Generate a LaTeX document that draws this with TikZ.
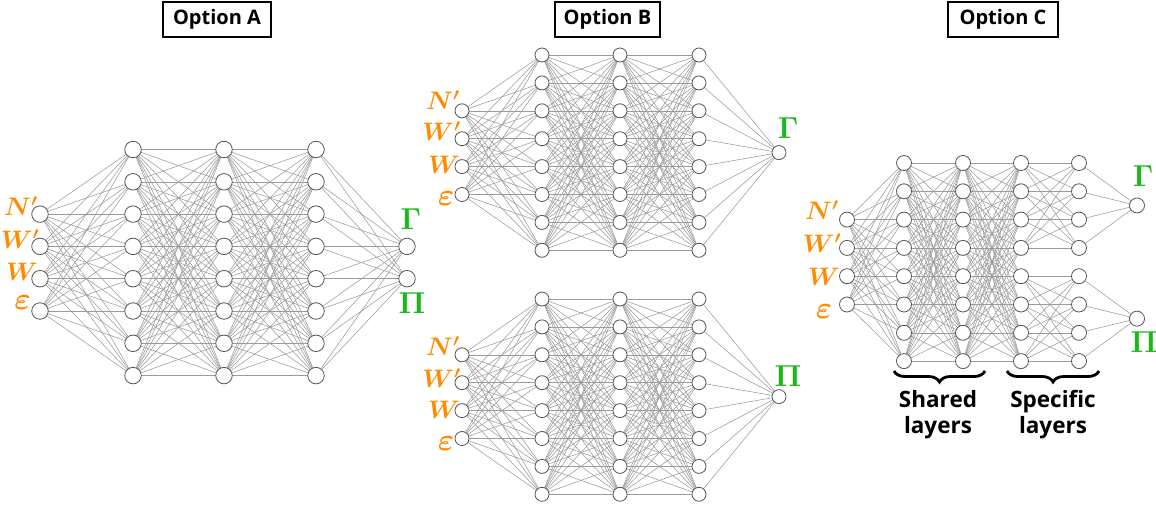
\documentclass[tikz,border=0pt]{standalone}
\usepackage{amsmath}
\usepackage{graphicx}
\usepackage[no-math]{fontspec}
\newfontfamily\titlefont{Open Sans}
\usetikzlibrary{decorations.pathreplacing}
\definecolor{inorange}{RGB}{255,140,0}
\definecolor{outgreen}{RGB}{25,185,25}
\definecolor{edgegray}{RGB}{155,155,155}
\definecolor{nodegray}{RGB}{85,85,85}
\newcommand{\lab}[2][1.22]{\scalebox{#1}{$#2$}}
\pgfdeclarelayer{bg}\pgfsetlayers{bg,main}
\tikzset{
 neuron/.style={circle,draw=nodegray,fill=white,line width=0.8pt,inner sep=0pt,minimum size=#1},
 edge/.style={draw=edgegray,line width=0.55pt},
 titlebox/.style={draw=black,line width=1.6pt,font=\titlefont\bfseries\fontsize{20}{20}\selectfont,minimum height=35pt,inner sep=0pt},
 inlabel/.style={text=inorange,font=\huge\boldmath,inner sep=0pt},
 outlabel/.style={text=outgreen,font=\Huge\boldmath,inner sep=0pt},
 bracetext/.style={font=\titlefont\bfseries\fontsize{22.5}{26}\selectfont,align=center,inner sep=0pt},
 layerbrace/.style={decorate,decoration={brace,mirror,amplitude=11pt},line width=2.8pt}
}
\begin{document}
\begin{tikzpicture}[x=1pt,y=-1pt]
\useasboundingbox (0,0) rectangle (1156,508);
% ---------------- titles
\node[titlebox,minimum width=108pt] (tA) at (217,19.5) {Option A};
\node[titlebox,minimum width=105pt] (tB) at (607.5,19.5) {Option B};
\node[titlebox,minimum width=110pt] (tC) at (1003,19.5) {Option C};

% ---------------- Option A
\foreach \j in {1,...,8}{
  \foreach \x [count=\l] in {133,224,316}
    \node[neuron=16.5pt] (A-\l-\j) at (\x,{149.5+(\j-1)*32.3}) {};
}
\foreach \i in {1,...,4}
  \node[neuron=16.5pt] (A-0-\i) at (40,{149.5+(\i+1)*32.3}) {};
\node[neuron=16.5pt] (A-4-1) at (407,{149.5+3*32.3}) {};
\node[neuron=16.5pt] (A-4-2) at (407,{149.5+4*32.3}) {};
\begin{pgfonlayer}{bg}
\foreach \i in {1,...,4}\foreach \j in {1,...,8}
  \draw[edge] (A-0-\i.center) -- (A-1-\j.center);
\foreach \l/\m in {1/2,2/3}\foreach \i in {1,...,8}\foreach \j in {1,...,8}
  \draw[edge] (A-\l-\i.center) -- (A-\m-\j.center);
\foreach \i in {1,...,8}\foreach \k in {1,2}
  \draw[edge] (A-3-\i.center) -- (A-4-\k.center);
\end{pgfonlayer}
\node[inlabel] (A-N) at (21,206) {\lab{N'}};
\node[inlabel] (A-Wp) at (20,239) {\lab{W'}};
\node[inlabel] (A-W) at (22,272) {\lab{W}};
\node[inlabel] (A-e) at (22.5,303) {\lab[1.5]{\varepsilon}};
\node[outlabel] (A-G) at (411,219) {\lab{\Gamma}};
\node[outlabel] (A-P) at (412,303) {\lab{\Pi}};

% ---------------- Option B (two networks)
\foreach \net/\ys/\yo in {T/55/152.6, U/299/396.6}{
  \foreach \j in {1,...,8}{
    \foreach \x [count=\l] in {542,620,699}
      \node[neuron=14pt] (B\net-\l-\j) at (\x,{\ys+(\j-1)*27.9}) {};
  }
  \foreach \i in {1,...,4}
    \node[neuron=14pt] (B\net-0-\i) at (462,{\ys+(\i+1)*27.9}) {};
  \node[neuron=14pt] (B\net-4-1) at (779,\yo) {};
  \begin{pgfonlayer}{bg}
  \foreach \i in {1,...,4}\foreach \j in {1,...,8}
    \draw[edge] (B\net-0-\i.center) -- (B\net-1-\j.center);
  \foreach \l/\m in {1/2,2/3}\foreach \i in {1,...,8}\foreach \j in {1,...,8}
    \draw[edge] (B\net-\l-\i.center) -- (B\net-\m-\j.center);
  \foreach \i in {1,...,8}
    \draw[edge] (B\net-3-\i.center) -- (B\net-4-1.center);
  \end{pgfonlayer}
}
\node[inlabel] (BT-N) at (443,100) {\lab{N'}};
\node[inlabel] (BT-Wp) at (441.5,131) {\lab{W'}};
\node[inlabel] (BT-W) at (444,165) {\lab{W}};
\node[inlabel] (BT-e) at (446,199) {\lab[1.5]{\varepsilon}};
\node[outlabel] (BT-G) at (788,128) {\lab{\Gamma}};
\node[inlabel] (BU-N) at (443,346) {\lab{N'}};
\node[inlabel] (BU-Wp) at (441.5,378) {\lab{W'}};
\node[inlabel] (BU-W) at (444,410) {\lab{W}};
\node[inlabel] (BU-e) at (446,444) {\lab[1.5]{\varepsilon}};
\node[outlabel] (BU-P) at (788,376) {\lab{\Pi}};

% ---------------- Option C
\foreach \j in {1,...,8}{
  \foreach \x [count=\l] in {904,963,1021,1079}
    \node[neuron=15pt] (C-\l-\j) at (\x,{163+(\j-1)*28.3}) {};
}
\foreach \i in {1,...,4}
  \node[neuron=15pt] (C-0-\i) at (847,{163+(\i+1)*28.3}) {};
\node[neuron=15pt] (C-G) at (1137,{163+1.5*28.3}) {};
\node[neuron=15pt] (C-P) at (1137,{163+5.5*28.3}) {};
\begin{pgfonlayer}{bg}
\foreach \i in {1,...,4}\foreach \j in {1,...,8}
  \draw[edge] (C-0-\i.center) -- (C-1-\j.center);
\foreach \l/\m in {1/2,2/3}\foreach \i in {1,...,8}\foreach \j in {1,...,8}
  \draw[edge] (C-\l-\i.center) -- (C-\m-\j.center);
\foreach \i in {1,...,4}\foreach \j in {1,...,4}
  \draw[edge] (C-3-\i.center) -- (C-4-\j.center);
\foreach \i in {5,...,8}\foreach \j in {5,...,8}
  \draw[edge] (C-3-\i.center) -- (C-4-\j.center);
\foreach \i in {1,...,4}
  \draw[edge] (C-4-\i.center) -- (C-G.center);
\foreach \i in {5,...,8}
  \draw[edge] (C-4-\i.center) -- (C-P.center);
\end{pgfonlayer}
\node[inlabel] (C-N) at (822,210) {\lab{N'}};
\node[inlabel] (C-Wp) at (822,243) {\lab{W'}};
\node[inlabel] (C-W) at (824,277) {\lab{W}};
\node[inlabel] (C-e) at (824,312) {\lab[1.5]{\varepsilon}};
\node[outlabel] (C-Gl) at (1143,176) {\lab{\Gamma}};
\node[outlabel] (C-Pl) at (1144,342.5) {\lab{\Pi}};

\coordinate (sbL) at (894,371);
\coordinate (sbR) at (985,371);
\coordinate (pbL) at (1007,371);
\coordinate (pbR) at (1099,371);
\draw[layerbrace] (sbL) -- (sbR);
\draw[layerbrace] (pbL) -- (pbR);
\node[bracetext] (shared) at (938,415) {Shared\\layers};
\node[bracetext] (specific) at (1053,415) {Specific\\layers};
\end{tikzpicture}
\end{document}
